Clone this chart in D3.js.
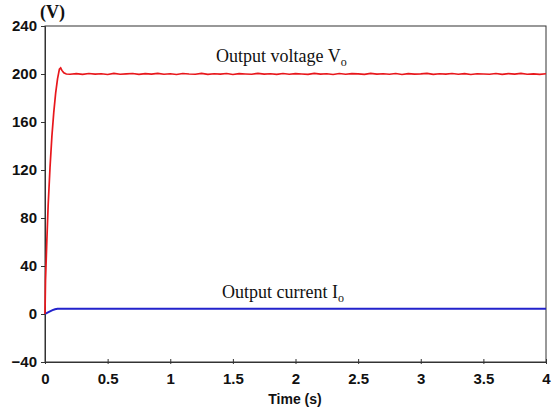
<!DOCTYPE html>
<html><head><meta charset="utf-8">
<script src="https://cdn.jsdelivr.net/npm/d3@7"></script>
<style>body{margin:0;background:#fff}</style>
</head><body>
<svg id="c" width="558" height="411"></svg>
<script>
const xTicks = [0, 0.5, 1, 1.5, 2, 2.5, 3, 3.5, 4];
const xTickLabels = ["0", "0.5", "1", "1.5", "2", "2.5", "3", "3.5", "4"];
const yTicks = [-40, 0, 40, 80, 120, 160, 200, 240];
const voltageRiseT = [0, 0.004, 0.008, 0.015, 0.025, 0.04, 0.055, 0.07, 0.085, 0.1, 0.115, 0.125, 0.135, 0.15, 0.17];
const voltageRiseV = [0, 28, 40, 62, 90, 122, 148, 168, 184, 196, 204, 205, 203, 201, 200];
// steady-state samples every 0.05 s from 0.2 s to 4.0 s
const voltageSteadyT = [0.2,0.25,0.3,0.35,0.4,0.45,0.5,0.55,0.6,0.65,0.7,0.75,0.8,0.85,0.9,0.95,1,1.05,1.1,1.15,1.2,1.25,1.3,1.35,1.4,1.45,1.5,1.55,1.6,1.65,1.7,1.75,1.8,1.85,1.9,1.95,2,2.05,2.1,2.15,2.2,2.25,2.3,2.35,2.4,2.45,2.5,2.55,2.6,2.65,2.7,2.75,2.8,2.85,2.9,2.95,3,3.05,3.1,3.15,3.2,3.25,3.3,3.35,3.4,3.45,3.5,3.55,3.6,3.65,3.7,3.75,3.8,3.85,3.9,3.95,4];
const voltageSteadyV = [199.8,200.3,199.7,200.4,199.9,200.2,199.6,200.5,199.8,200.1,200.4,199.7,200.3,199.9,200.5,199.8,200.2,199.6,200.4,200.0,199.8,200.5,199.7,200.2,199.9,200.4,199.6,200.3,200.0,199.8,200.5,199.9,200.2,199.7,200.4,199.8,200.3,200.0,199.7,200.5,199.9,200.2,199.6,200.4,199.8,200.3,200.1,199.7,200.5,199.9,200.2,199.8,200.4,199.6,200.3,199.9,200.1,200.5,199.7,200.2,199.9,200.4,199.8,200.3,199.6,200.2,200.0,199.8,200.4,199.7,200.3,199.9,200.5,199.8,200.1,199.7,200.2];
const currentT = [0, 0.02, 0.04, 0.06, 0.08, 0.1, 0.15, 1, 2, 3, 4];
const currentI = [0, 1.2, 2.2, 3.2, 4.0, 4.3, 4.4, 4.4, 4.4, 4.4, 4.4];

const svg = d3.select("#c");
const m = {l: 45, r: 546, t: 26, b: 362};
const x = d3.scaleLinear().domain([0, 4]).range([m.l, m.r]);
const y = d3.scaleLinear().domain([-40, 240]).range([m.b, m.t]);

svg.append("rect").attr("x", m.l).attr("y", m.t).attr("width", m.r - m.l).attr("height", m.b - m.t)
  .attr("fill", "none").attr("stroke", "#333").attr("stroke-width", 1);

const fontSans = "Liberation Sans, Arial, sans-serif";
const xAxis = svg.append("g").attr("transform", `translate(0,${m.b})`)
  .call(d3.axisBottom(x).tickValues(xTicks).tickFormat((d, i) => xTickLabels[i]).tickSize(-3).tickPadding(8));
xAxis.selectAll(".tick line").attr("y2", -3).attr("y1", 2);
const yAxis = svg.append("g").attr("transform", `translate(${m.l},0)`)
  .call(d3.axisLeft(y).tickValues(yTicks).tickSize(4).tickPadding(4));
[xAxis, yAxis].forEach(a => {
  a.select(".domain").attr("stroke", "#333");
  a.selectAll(".tick line").attr("stroke", "#333");
  a.selectAll("text").attr("font-family", fontSans).attr("font-size", 15).attr("font-weight", "bold").attr("fill", "#111");
});
xAxis.selectAll("text").attr("dy", "0.9em");

const line = d3.line().x(d => x(d[0])).y(d => y(d[1]));
svg.append("path").datum(currentT.map((t, i) => [t, currentI[i]]))
  .attr("d", line).attr("fill", "none").attr("stroke", "#2222cc").attr("stroke-width", 2);
const vData = voltageRiseT.map((t, i) => [t, voltageRiseV[i]])
  .concat(voltageSteadyT.map((t, i) => [t, voltageSteadyV[i]]));
svg.append("path").datum(vData)
  .attr("d", line).attr("fill", "none").attr("stroke", "#e8171c").attr("stroke-width", 1.7);

const serif = "Liberation Serif, Times New Roman, serif";
const t1 = svg.append("text").attr("x", 216).attr("y", 62).attr("font-family", serif).attr("font-size", 18).attr("fill", "#111");
t1.append("tspan").text("Output voltage V");
t1.append("tspan").attr("font-size", 12).attr("dy", 4).text("o");
const t2 = svg.append("text").attr("x", 222).attr("y", 298).attr("font-family", serif).attr("font-size", 18).attr("fill", "#111");
t2.append("tspan").text("Output current I");
t2.append("tspan").attr("font-size", 12).attr("dy", 4).text("o");

svg.append("text").attr("x", 40).attr("y", 18).attr("font-family", serif).attr("font-weight", "bold")
  .attr("font-size", 18).attr("fill", "#111").text("(V)");
svg.append("text").attr("x", 295).attr("y", 404).attr("text-anchor", "middle").attr("font-family", fontSans)
  .attr("font-weight", "bold").attr("font-size", 14).attr("fill", "#111").text("Time (s)");
</script>
</body></html>
